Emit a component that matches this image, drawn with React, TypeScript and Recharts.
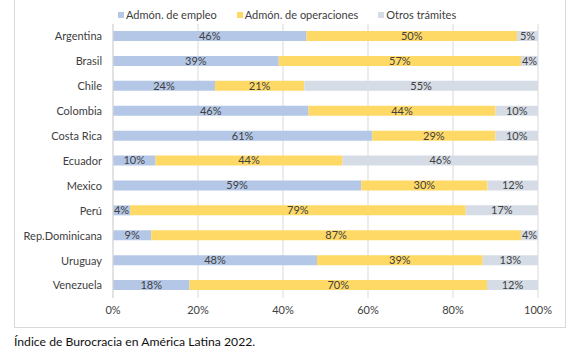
import React from "react";
import { Bar, BarChart, CartesianGrid, LabelList, XAxis, YAxis } from "recharts";

const FONT = "Lato, 'Open Sans', sans-serif";
const INK = "#404040";
const GRID = "#D9D9D9";

const countries = [
  "Argentina",
  "Brasil",
  "Chile",
  "Colombia",
  "Costa Rica",
  "Ecuador",
  "Mexico",
  "Perú",
  "Rep.Dominicana",
  "Uruguay",
  "Venezuela",
];
const empleo = [46, 39, 24, 46, 61, 10, 59, 4, 9, 48, 18];
const operaciones = [50, 57, 21, 44, 29, 44, 30, 79, 87, 39, 70];
const otros = [5, 4, 55, 10, 10, 46, 12, 17, 4, 13, 12];
const xTicks = [0, 0.2, 0.4, 0.6, 0.8, 1];

const seriesInfo = [
  { key: "empleo", name: "Admón. de empleo", color: "#B4C7E7" },
  { key: "operaciones", name: "Admón. de operaciones", color: "#FFD966" },
  { key: "otros", name: "Otros trámites", color: "#D6DCE5" },
];

const data = countries.map((c, i) => ({
  country: c,
  empleo: empleo[i],
  operaciones: operaciones[i],
  otros: otros[i],
}));

function TopLegend() {
  return (
    <div
      style={{
        position: "absolute",
        top: 7,
        left: 118,
        display: "flex",
        gap: 20,
        fontSize: 11,
        color: INK,
        fontFamily: FONT,
        lineHeight: "16px",
      }}
    >
      {seriesInfo.map((s) => (
        <div key={s.key} style={{ display: "flex", alignItems: "center" }}>
          <span style={{ width: 6, height: 6, background: s.color, marginRight: 2, display: "inline-block" }} />
          {s.name}
        </div>
      ))}
    </div>
  );
}

export default function App() {
  return (
    <div style={{ position: "absolute", left: 0, top: 0, width: 582, height: 354, background: "#fff", overflow: "hidden" }}>
      <div
        style={{
          position: "absolute",
          left: 14,
          top: -6,
          width: 552,
          height: 334,
          border: `1px solid ${GRID}`,
          boxSizing: "border-box",
        }}
      />
      <TopLegend />
      <div style={{ position: "absolute", left: 0, top: 0 }}>
        <BarChart
          width={582}
          height={330}
          data={data}
          layout="vertical"
          stackOffset="expand"
          barSize={10}
          margin={{ top: 24, right: 44, left: 0, bottom: 12 }}
          style={{ fontFamily: FONT }}
        >
          <CartesianGrid horizontal={false} stroke={GRID} />
          <XAxis
            type="number"
            domain={[0, 1]}
            ticks={xTicks}
            tickFormatter={(v: number) => `${Math.round(v * 100)}%`}
            tick={{ fill: INK, fontSize: 11 }}
            axisLine={false}
            tickLine={false}
            tickSize={0}
            tickMargin={8}
            height={20}
          />
          <YAxis
            type="category"
            dataKey="country"
            width={113}
            tick={{ fill: INK, fontSize: 11 }}
            axisLine={{ stroke: GRID }}
            tickLine={false}
            tickSize={0}
            tickMargin={11}
            interval={0}
          />
          {seriesInfo.map((s) => (
            <Bar key={s.key} dataKey={s.key} name={s.name} stackId="a" fill={s.color} isAnimationActive={false}>
              <LabelList
                dataKey={s.key}
                position="center"
                formatter={(v: number) => `${v}%`}
                style={{ fill: INK, fontSize: 11 }}
              />
            </Bar>
          ))}
        </BarChart>
      </div>
      <div
        style={{
          position: "absolute",
          left: 14,
          top: 334,
          fontSize: 12.2,
          color: "#111",
          fontFamily: FONT,
        }}
      >
        Índice de Burocracia en América Latina 2022.
      </div>
    </div>
  );
}
